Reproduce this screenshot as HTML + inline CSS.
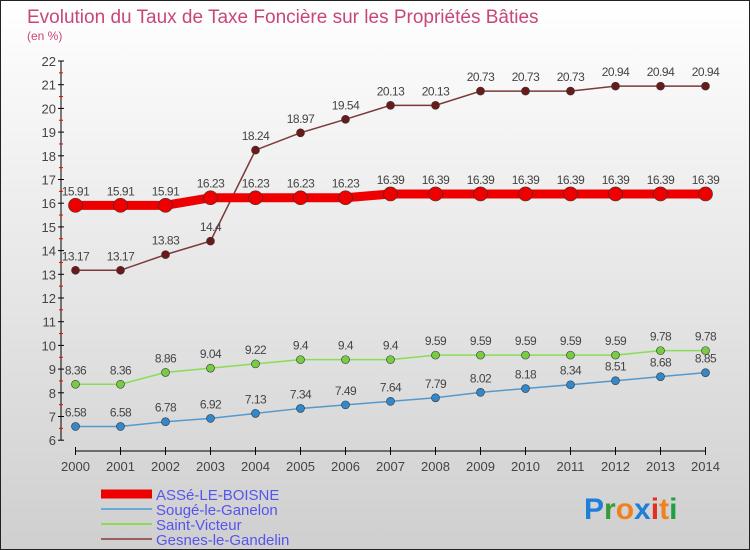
<!DOCTYPE html>
<html><head><meta charset="utf-8"><style>
body{margin:0;}
#c{position:relative;width:748px;height:548px;border:1px solid #222;background:linear-gradient(#ffffff,#cfcfcf);font-family:"Liberation Sans",sans-serif;overflow:hidden}
</style></head><body>
<div id="c">
<svg width="748" height="548" id="s">
<text x="26" y="22" font-size="19" fill="#c8467a">Evolution du Taux de Taxe Foncière sur les Propriétés Bâties</text>
<text x="26" y="39" font-size="12" fill="#c8467a">(en %)</text>
<g id="g"></g>
<text x="583" y="518" font-size="30" font-weight="bold" fill="#1e7fd8">P<tspan fill="#3a9a3a">r</tspan><tspan fill="#f08020">o</tspan><tspan fill="#1e7fd8">x</tspan><tspan fill="#e03020">i</tspan><tspan fill="#f08020">t</tspan><tspan fill="#20a040">i</tspan></text>
</svg>
</div>
<script>
const years=[2000,2001,2002,2003,2004,2005,2006,2007,2008,2009,2010,2011,2012,2013,2014];
const asse=[15.91,15.91,15.91,16.23,16.23,16.23,16.23,16.39,16.39,16.39,16.39,16.39,16.39,16.39,16.39];
const souge=[6.58,6.58,6.78,6.92,7.13,7.34,7.49,7.64,7.79,8.02,8.18,8.34,8.51,8.68,8.85];
const saint=[8.36,8.36,8.86,9.04,9.22,9.4,9.4,9.4,9.59,9.59,9.59,9.59,9.59,9.78,9.78];
const gesnes=[13.17,13.17,13.83,14.4,18.24,18.97,19.54,20.13,20.13,20.73,20.73,20.73,20.94,20.94,20.94];
const yTicks=[6,7,8,9,10,11,12,13,14,15,16,17,18,19,20,21,22];
const names=["ASSé-LE-BOISNE","Sougé-le-Ganelon","Saint-Victeur","Gesnes-le-Gandelin"];
const NS="http://www.w3.org/2000/svg";
const g=document.getElementById('g');
const X=i=>74.5+i*45, Y=v=>60+(22-v)*23.7;
function el(t,a,p){const e=document.createElementNS(NS,t);for(const k in a)e.setAttribute(k,a[k]);(p||g).appendChild(e);return e;}
let ax=el('line',{x1:60,y1:Y(22),x2:60,y2:Y(6),stroke:'#000'});


yTicks.forEach(v=>{
 el('line',{x1:57,y1:Y(v),x2:63,y2:Y(v),stroke:'#000'});
 if(v<22)el('line',{x1:58,y1:Y(v+0.5),x2:62,y2:Y(v+0.5),stroke:'#e00'});
 let t=el('text',{x:55,y:Y(v)+5,'text-anchor':'end','font-size':13,fill:'#444'});t.textContent=v;
 
 
});
let xa=el('line',{x1:X(0),y1:450,x2:X(14),y2:450,stroke:'#000'});


years.forEach((y,i)=>{
 el('line',{x1:X(i),y1:446,x2:X(i),y2:454,stroke:'#000'});
 let t=el('text',{x:X(i),y:470,'text-anchor':'middle','font-size':13,fill:'#444'});t.textContent=y;
 
 
});
function series(d,col,w,r,fill,nm){
 let p=el('polyline',{points:d.map((v,i)=>X(i)+','+Y(v)).join(' '),fill:'none',stroke:col,'stroke-width':w});
 
 
 d.forEach((v,i)=>{
  let c=el('circle',{cx:X(i),cy:Y(v),r:r,fill:fill,stroke:'#333','stroke-width':0.6});
  
  
  let t=el('text',{x:X(i),y:Y(v)-10,'text-anchor':'middle','font-size':12,fill:'#444','letter-spacing':'-0.5'});t.textContent=v;
  
  
 });
}
series(gesnes,'#7a3a3a',1.5,4,'#6b1a1a','gesnes');
series(saint,'#88dd55',1.5,4,'#77cc44','saint-victeur');
series(souge,'#5599cc',1.5,4,'#3388cc','souge');
series(asse,'#ee0000',9,7,'#ee0000','asse');
const lc=['#ee0000','#6aaad8','#88dd55','#9a6060'],lw=[9,2,2,2];
names.forEach((n,i)=>{
 const y=493+i*15;
 let l=el('line',{x1:100,y1:y,x2:151,y2:y,stroke:lc[i],'stroke-width':lw[i]});
 
 
 let t=el('text',{x:155,y:y+6,'font-size':15,fill:'#5555ee'});t.textContent=n;
 
 
});
</script>
</body></html>
